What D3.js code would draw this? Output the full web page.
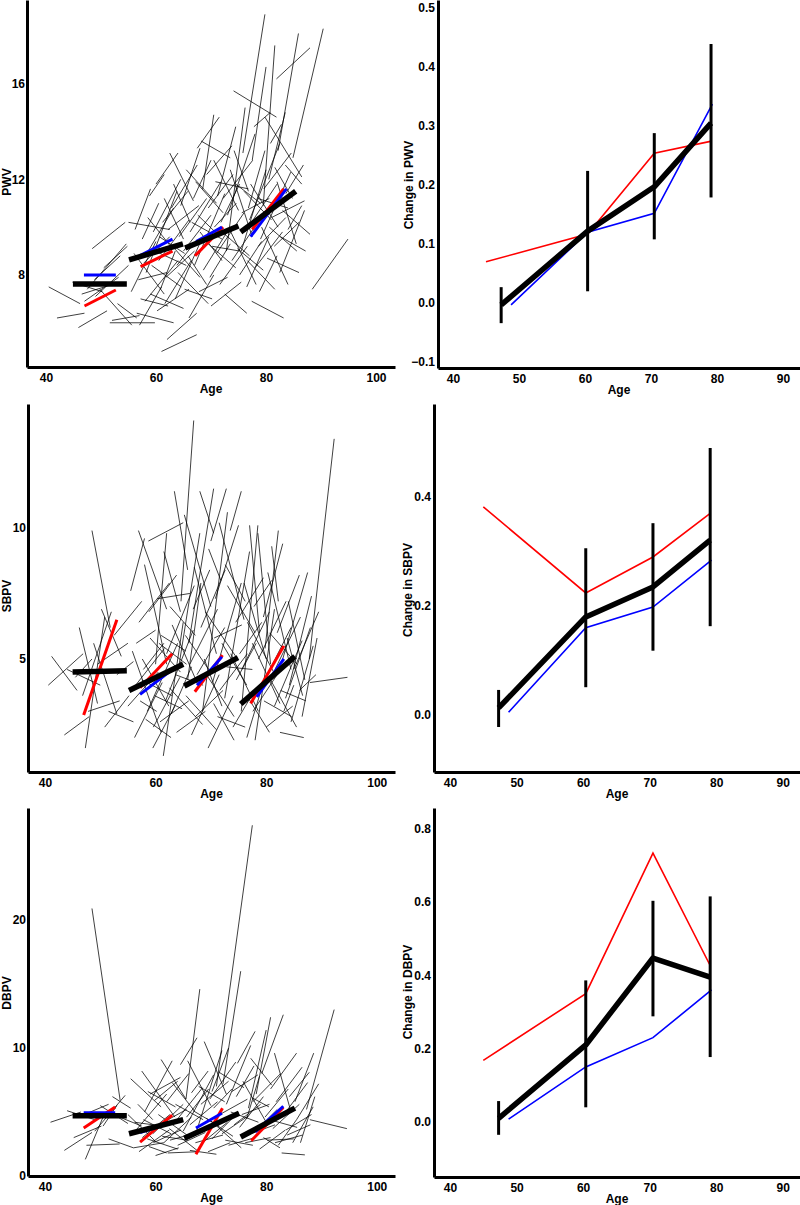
<!DOCTYPE html>
<html><head><meta charset="utf-8">
<script src="https://cdn.jsdelivr.net/npm/d3@7"></script>
<style>
body{margin:0;background:#fff;}
svg text{font-family:"Liberation Sans",Arial,sans-serif;font-weight:bold;fill:#000;}
</style></head>
<body><svg id="c" width="800" height="1205"></svg>
<script>
// ---------- DATA ----------
const ageTicksLeft = [40, 60, 80, 100];
const ageTicksRight = [40, 50, 60, 70, 80, 90];
const pwvTicks = [8, 12, 16];
const sbpvTicks = [5, 10];
const dbpvTicks = [0, 10, 20];
const pwvChangeTicks = [-0.1, 0.0, 0.1, 0.2, 0.3, 0.4, 0.5];
const sbpvChangeTicks = [0.0, 0.2, 0.4];
const dbpvChangeTicks = [0.0, 0.2, 0.4, 0.6, 0.8];

// individual trajectories: [age1, value1, age2, value2]
const pwvTraj = [
 [40.5,7.5,46.2,6.8],[42.0,6.2,47.0,6.4],[45.9,5.8,51.1,6.5],[48.4,9.1,54.4,10.2],[47.5,7.4,54.6,9.3],
 [51.6,6.0,59.8,6.0],[49.8,7.4,55.6,5.9],[46.5,7.2,52.0,7.6],[47.0,6.9,53.2,7.9],[49.0,7.1,55.0,8.4],
 [44.8,7.7,50.2,7.3],[50.5,8.3,54.8,9.2],[52.0,6.1,57.0,6.3],[53.0,6.8,56.5,6.2],[48.8,7.8,53.5,8.8],
 [55.0,10.2,62.5,9.9],[55.5,7.3,60.0,9.4],[56.0,8.9,61.5,7.2],[56.5,6.4,63.2,6.0],[57.0,5.9,61.0,7.5],
 [56.8,7.8,62.0,8.1],[57.5,9.5,60.5,11.0],[58.0,6.9,64.0,8.6],[58.5,10.4,63.0,9.1],[58.2,8.1,63.8,11.5],
 [59.0,7.2,65.0,6.6],[59.5,9.8,64.5,12.0],[60.0,11.8,64.0,13.1],[60.2,6.5,66.0,7.4],[61.0,4.8,67.4,5.5],
 [62.0,5.3,67.4,6.4],[62.5,13.1,66.8,11.1],[60.5,8.6,66.0,10.3],[61.5,11.2,65.0,9.5],[61.8,7.9,67.0,9.0],
 [62.8,10.8,67.5,12.6],[63.0,9.2,68.0,7.9],[57.8,8.5,62.5,9.6],[59.8,9.0,65.5,8.4],[63.5,7.0,68.5,9.6],
 [64.0,8.1,69.5,6.8],[61.2,10.2,65.8,11.5],[58.8,11.3,61.5,12.2],[64.5,10.9,68.0,13.3],[60.8,7.4,63.5,9.0],
 [65.0,9.0,70.0,10.5],[65.5,12.4,71.0,11.0],[66.0,6.2,70.5,8.0],[66.5,10.2,72.0,9.5],[67.0,8.4,72.5,11.4],
 [67.5,13.3,71.5,14.6],[68.2,13.6,73.5,12.9],[67.8,7.3,73.0,7.9],[68.5,11.6,70.5,14.7],[69.0,9.4,74.5,8.3],
 [69.5,10.8,74.0,12.2],[70.0,6.7,75.5,7.7],[70.5,12.8,75.0,10.7],[71.0,8.9,76.0,10.6],[71.2,11.3,74.5,14.2],
 [72.0,9.8,77.0,8.8],[72.5,7.2,76.5,6.4],[73.0,10.5,78.0,13.9],[73.5,12.4,77.5,9.6],[74.1,15.7,81.9,14.6],
 [73.8,8.6,78.5,10.2],[74.5,11.8,79.0,11.0],[66.8,11.2,70.0,12.8],[68.0,9.8,72.0,8.6],[69.8,7.9,73.5,9.3],
 [71.8,10.2,75.2,11.8],[72.8,9.0,76.2,15.0],[70.8,11.9,76.8,11.6],[65.8,8.8,69.2,7.6],[74.8,9.1,79.5,8.2],
 [75.8,13.1,79.8,18.9],[79.5,10.9,81.6,17.6],[82.2,13.2,85.9,18.1],[84.9,12.9,90.4,18.3],[81.9,16.2,88.0,17.5],
 [77.4,6.9,83.2,6.2],[88.4,7.4,94.9,9.5],[75.5,9.0,80.0,12.4],[76.0,11.5,81.0,10.3],[76.5,7.5,80.5,9.6],
 [77.0,10.3,82.5,13.5],[77.5,12.8,80.0,16.7],[78.0,8.3,83.0,9.8],[78.5,11.2,84.0,10.8],[79.0,9.5,84.5,12.3],
 [79.8,14.6,86.5,12.1],[80.2,8.7,86.0,8.1],[80.5,12.0,83.5,14.8],[81.0,10.4,87.0,11.1],[81.5,9.2,86.0,10.2],
 [82.0,11.9,85.5,9.3],[82.5,8.1,87.0,10.7],[83.0,10.7,88.0,9.7],[83.5,12.6,86.5,11.8],[84.0,9.9,86.5,10.9],
 [76.2,9.8,82.0,11.8],[78.8,7.3,82.0,8.8],[80.8,13.5,82.8,14.3],[75.2,8.0,79.2,9.4],[77.8,14.2,80.8,14.8],
 [79.2,10.0,84.0,7.6],
 [56.2,9.9,59.0,11.6],[57.2,7.0,62.2,6.7],[58.6,9.0,63.2,10.8],[59.2,8.4,64.6,7.5],[60.6,9.6,65.2,8.9],
 [61.6,6.8,66.4,8.6],[62.2,9.9,67.8,10.9],[63.2,11.8,66.2,10.2],[64.2,9.6,69.2,11.2],[65.2,7.4,70.2,7.0],
 [66.2,9.8,71.8,11.9],[67.2,11.9,72.2,10.6],[68.6,8.2,73.2,9.9],[69.2,12.2,73.8,13.4],[70.2,9.2,75.2,9.0],
 [71.6,7.6,76.6,9.2],[72.2,11.2,77.6,12.8],[73.6,9.8,78.2,7.6],[75.6,10.6,80.6,11.2],[76.6,8.6,81.6,7.4],
 [77.2,11.8,82.2,10.0],[78.6,9.2,83.6,10.4],[79.6,11.6,84.6,13.1],[80.6,10.0,85.6,9.0],[81.6,12.5,84.8,11.2],
 [82.6,9.6,87.2,9.0],[83.6,11.4,86.8,12.6],[76.8,10.8,79.8,13.2],[74.2,13.2,76.8,11.5],[70.6,10.0,74.6,11.0],
 [67.6,10.5,71.2,9.7],[63.8,8.4,67.2,9.4]
];
const sbpvTraj = [
 [40.6,4.0,46.9,5.2],[41.2,5.1,45.8,3.8],[43.5,2.1,48.0,2.8],[44.0,4.6,50.0,4.0],[46.2,6.2,49.5,3.3],
 [47.3,1.6,50.8,6.6],[48.5,9.9,51.8,6.2],[47.8,3.0,53.5,3.4],[48.8,5.6,53.0,2.9],[49.5,4.8,55.0,5.6],
 [46.8,3.6,52.0,6.8],[50.2,6.9,53.8,5.1],[51.5,3.0,56.0,2.6],[52.5,5.9,57.5,7.2],[50.8,2.4,55.2,3.6],
 [45.5,4.3,48.5,5.0],[53.0,4.4,56.0,4.9],
 [55.5,7.6,58.0,9.6],[56.9,9.9,62.0,6.9],[55.0,3.2,60.5,4.5],[55.8,5.3,61.0,2.2],[56.2,2.0,61.2,4.1],
 [57.0,6.4,62.5,7.9],[57.5,4.2,63.0,3.6],[58.0,8.6,62.0,4.8],[58.7,9.5,65.0,10.2],[58.5,3.0,64.0,5.6],
 [59.0,5.8,64.5,4.5],[59.5,1.6,63.5,3.2],[60.0,4.8,62.0,9.8],[60.3,7.3,66.2,7.5],[60.8,2.6,66.0,3.4],
 [61.4,1.3,65.0,6.4],[61.5,9.1,64.5,6.8],[62.0,5.2,67.0,7.8],[62.5,3.9,68.5,2.5],[63.0,6.3,67.5,4.1],
 [63.4,11.4,65.8,8.4],[64.6,7.2,66.9,14.1],[63.8,2.2,69.0,3.0],[64.2,4.7,68.0,9.8],[57.8,4.6,61.5,5.6],
 [59.8,3.6,64.8,3.1],[61.0,5.9,65.5,5.3],[62.8,2.9,66.5,4.7],[56.5,5.6,60.0,6.1],[58.2,2.7,62.8,2.0],
 [65.2,10.5,70.0,7.0],[65.5,3.6,71.0,2.3],[66.0,5.6,70.5,11.5],[66.5,2.1,71.5,4.4],[67.0,8.5,71.0,5.2],
 [67.5,4.4,72.5,6.2],[68.0,11.4,70.5,9.8],[68.5,3.0,73.0,10.6],[69.0,6.8,74.5,5.1],[69.5,1.6,74.0,3.6],
 [70.0,9.5,72.8,11.5],[70.3,4.1,75.5,7.9],[70.8,7.3,75.0,10.1],[71.2,2.8,76.2,2.4],[71.5,10.2,76.0,6.5],
 [72.0,5.6,76.5,4.0],[72.5,3.5,77.0,9.1],[73.0,7.8,78.0,6.0],[73.5,9.9,75.5,11.4],[74.0,2.4,78.2,3.9],
 [74.5,6.4,79.5,8.1],[68.8,5.0,72.0,3.2],[66.8,6.9,69.8,8.4],[72.8,4.7,77.5,4.6],[65.8,4.2,68.2,7.9],
 [70.5,3.3,74.2,1.9],
 [75.5,3.0,78.5,10.1],[76.0,7.9,80.0,5.0],[76.5,2.0,79.5,4.1],[77.0,10.1,78.8,6.0],[77.5,5.6,82.5,3.3],
 [78.0,1.9,81.5,6.9],[78.5,9.8,80.8,4.8],[79.0,3.9,84.5,6.2],[79.5,6.6,83.0,9.4],[80.0,2.4,84.8,3.2],
 [80.3,8.3,84.5,4.6],[80.8,4.2,85.5,2.4],[81.0,9.3,82.2,7.2],[81.5,3.2,86.5,5.7],[82.0,6.0,86.0,8.2],
 [82.5,2.2,86.8,2.0],[83.0,5.0,87.5,8.3],[83.5,3.5,88.0,6.2],[84.0,7.2,87.0,4.2],[84.5,2.6,88.5,5.5],
 [85.0,4.6,89.5,6.8],[86.0,3.8,89.0,4.4],[87.8,5.0,92.3,13.4],[87.9,4.1,94.7,4.3],[77.8,7.0,81.0,8.0],
 [75.2,5.2,79.2,6.4],[79.8,5.4,82.2,9.9],[83.2,3.0,85.0,4.0],[86.5,2.8,89.2,5.8],[76.8,3.5,80.6,2.2],
 [56.4,4.0,61.6,5.4],[57.6,5.0,62.4,3.2],[58.8,6.8,63.8,8.2],[59.6,2.4,64.4,4.3],[60.6,5.6,65.6,4.8],
 [61.8,3.4,66.8,6.1],[62.6,7.0,67.2,5.9],[63.6,4.4,68.6,4.0],[66.2,4.8,71.2,6.9],[67.2,2.8,72.2,3.8],
 [68.2,6.2,72.6,8.4],[69.2,4.4,74.2,2.8],[70.6,5.8,75.6,6.3],[71.6,3.8,76.6,5.2],[72.6,8.6,76.2,7.2],
 [73.6,5.2,78.6,3.0],[75.6,4.6,80.6,6.8],[76.6,6.4,81.6,4.4],[77.6,3.0,82.6,4.6],[78.6,5.0,83.6,7.2],
 [79.6,3.4,84.6,2.8],[80.6,6.0,85.6,4.8],[81.6,4.6,86.2,6.6],[82.6,3.8,87.2,3.4],[84.2,4.0,88.2,7.4],
 [65.4,5.9,69.6,4.6],[74.6,4.2,78.2,5.6],[57.2,3.4,60.2,3.0],[69.6,9.2,71.8,8.0],[83.8,5.8,86.6,3.6]
];
const dbpvTraj = [
 [41.0,4.2,46.5,5.0],[43.5,2.0,48.5,3.4],[44.0,5.1,49.0,4.4],[47.3,1.3,50.5,4.6],[46.0,4.6,51.5,5.6],
 [48.5,20.9,53.6,5.9],[47.5,2.4,53.5,2.5],[49.0,3.5,54.5,6.3],[50.0,5.5,55.0,4.1],[51.5,2.9,56.0,2.2],
 [52.2,6.2,55.5,5.3],[50.5,3.9,53.0,5.5],[45.2,3.0,50.2,3.9],[53.5,4.6,57.5,3.9],
 [55.0,4.8,60.0,2.7],[55.5,7.6,61.0,5.4],[56.0,2.2,61.5,2.6],[56.5,3.6,62.0,6.4],[57.0,1.9,62.5,3.6],
 [57.5,8.2,63.5,4.6],[58.0,5.0,63.0,9.0],[58.5,2.9,64.0,2.1],[59.0,6.4,64.5,7.7],[59.5,3.3,65.0,5.6],
 [60.0,1.6,64.2,2.2],[60.5,4.8,66.0,3.1],[61.0,9.1,65.5,6.0],[61.5,2.6,66.5,4.6],[62.0,5.8,66.0,8.0],
 [62.5,3.7,67.5,2.0],[63.0,7.3,67.0,5.1],[63.5,4.2,68.5,6.9],[64.0,2.4,69.0,3.4],[64.5,8.7,67.5,10.8],
 [65.5,6.0,68.0,14.6],[59.8,5.9,64.0,7.4],[57.8,4.4,62.8,3.3],[61.2,3.1,65.8,2.8],[58.8,2.3,62.0,1.8],
 [56.8,5.6,59.5,4.4],[62.2,1.8,67.8,1.9],
 [65.0,3.5,70.5,7.9],[65.8,9.0,70.0,5.5],[66.2,2.0,71.0,1.7],[66.8,5.1,71.5,3.9],[67.2,3.2,72.0,9.8],
 [67.8,7.0,72.5,5.8],[68.2,2.5,73.0,4.2],[68.8,10.5,72.8,6.4],[69.2,4.5,74.0,3.1],[69.8,6.0,74.5,8.9],
 [70.2,2.9,75.0,5.0],[71.0,7.0,77.5,27.4],[70.8,4.0,75.5,2.2],[71.5,8.1,76.0,6.9],[72.2,7.2,75.4,16.0],
 [72.0,3.3,76.8,4.7],[72.8,5.6,77.2,10.2],[73.2,2.4,78.0,3.0],[73.8,6.6,78.5,7.9],[74.2,4.0,79.0,5.6],
 [74.8,8.8,78.0,11.3],[66.5,6.5,69.5,8.2],[69.5,1.9,73.5,2.6],[70.5,5.3,73.8,6.8],
 [75.2,3.8,79.5,6.2],[75.8,7.4,80.0,4.2],[76.2,2.6,80.8,3.0],[76.8,5.3,80.0,11.4],[77.2,9.2,81.0,7.1],
 [77.8,3.4,82.0,5.2],[78.2,6.4,80.8,12.4],[78.8,2.1,83.5,3.6],[79.2,8.0,83.1,12.6],[79.8,4.6,84.0,6.8],
 [80.2,2.8,85.0,2.9],[80.8,6.8,85.5,9.6],[81.2,3.7,86.0,5.6],[81.8,5.8,86.5,8.5],[82.2,2.4,85.5,4.4],
 [82.8,1.8,87.0,1.65],[83.2,4.8,87.5,7.3],[83.8,3.2,88.0,4.0],[84.2,6.2,87.8,8.1],[84.8,2.6,88.5,5.4],
 [85.5,4.4,89.5,7.2],[87.3,5.2,92.3,13.0],[87.9,4.4,94.6,3.7],[86.2,2.6,88.8,6.2],[76.5,4.5,78.8,7.8],
 [79.5,3.0,82.5,2.2],[81.5,9.6,84.5,5.0],[77.5,6.1,80.5,5.4],
 [56.2,4.2,61.2,3.9],[57.6,3.0,62.6,4.8],[58.6,6.6,63.6,5.4],[59.6,2.6,64.6,3.6],[60.6,4.0,65.6,5.2],
 [62.6,2.8,67.6,3.4],[63.6,5.6,68.6,4.4],[66.2,4.0,71.2,5.8],[67.2,2.6,72.2,3.2],[68.2,5.6,73.2,7.4],
 [69.2,3.6,74.2,4.6],[71.6,4.8,76.6,6.0],[72.6,2.8,77.6,2.4],[73.6,5.0,78.6,4.2],[75.6,4.8,80.6,5.6],
 [76.6,3.2,81.6,4.0],[77.6,5.8,82.6,8.0],[78.6,3.8,83.6,4.8],[80.6,4.4,85.6,3.8],[81.6,2.6,86.6,3.2],
 [83.6,3.6,88.2,4.8],[85.2,5.8,88.6,9.6],[74.6,6.2,77.8,8.6],[70.2,6.6,73.2,10.0],[65.6,4.6,69.6,6.8]
];

// group mean segments (left panels)
const pwvMeanSeg = [[44.9,7.62,54.7,7.62],[55.1,8.63,64.9,9.3],[65.3,9.13,75.0,10.05],[75.4,9.8,85.4,11.5]];
const pwvBlueSeg = [[46.9,8.0,52.7,8.0],[57.0,8.8,63.0,9.5],[67.3,9.4,72.0,10.0],[77.2,9.6,83.7,11.6]];
const pwvRedSeg  = [[47.0,6.7,52.7,7.37],[57.2,8.35,63.0,9.0],[67.1,8.8,72.2,10.0],[77.5,9.9,83.2,11.6]];
const sbpvMeanSeg = [[45.0,4.5,54.8,4.55],[55.2,3.8,65.0,4.8],[65.2,3.97,74.9,5.05],[75.4,3.28,85.2,5.1]];
const sbpvBlueSeg = [[47.0,4.55,53.0,4.55],[57.2,3.65,63.0,4.6],[67.5,4.0,72.0,5.08],[78.3,3.55,83.2,5.0]];
const sbpvRedSeg  = [[47.0,2.86,53.0,6.5],[57.2,3.9,63.0,5.2],[67.1,3.75,72.1,5.15],[77.2,3.3,83.2,5.5]];
const dbpvMeanSeg = [[45.0,4.7,54.8,4.7],[55.2,3.3,65.0,4.4],[65.2,2.95,75.1,4.9],[75.4,3.05,85.2,5.3]];
const dbpvBlueSeg = [[47.0,4.95,52.7,4.95],[57.2,3.4,63.0,4.2],[67.3,3.75,72.0,4.9],[78.0,3.45,83.1,5.45]];
const dbpvRedSeg  = [[47.0,3.75,52.7,5.4],[57.2,2.65,63.0,4.75],[67.3,1.7,72.1,5.3],[77.3,2.75,83.1,5.35]];

// change panels (right)
const groupAges = [47.3, 60.4, 70.5, 79.1];
const redAges = [45.0, 60.4, 70.5, 79.0];
const blueAges = [48.8, 60.4, 70.5, 79.3];
const pwvChange = [-0.003, 0.122, 0.197, 0.305];
const pwvLo = [-0.034, 0.020, 0.108, 0.179];
const pwvHi = [0.027, 0.224, 0.288, 0.439];
const pwvRed = [0.070, 0.117, 0.254, 0.274];
const pwvBlue = [-0.003, 0.120, 0.152, 0.337];
const sbpvChange = [0.013, 0.180, 0.235, 0.321];
const sbpvLo = [-0.022, 0.051, 0.118, 0.163];
const sbpvHi = [0.046, 0.306, 0.352, 0.490];
const sbpvRed = [0.382, 0.224, 0.290, 0.369];
const sbpvBlue = [0.005, 0.160, 0.198, 0.284];
const dbpvChange = [0.010, 0.210, 0.447, 0.395];
const dbpvLo = [-0.035, 0.040, 0.288, 0.177];
const dbpvHi = [0.057, 0.386, 0.603, 0.615];
const dbpvRed = [0.168, 0.350, 0.733, 0.430];
const dbpvBlue = [0.008, 0.150, 0.230, 0.360];

// ---------- DRAW ----------
const svg = d3.select("#c");

function axes(g, x, y, xt, yt, fmt, yLabel, lx, ly, ypad) {
  const xa = g.append("g").attr("transform", `translate(0,${y.range()[0]})`)
    .call(d3.axisBottom(x).tickValues(xt).tickSize(0).tickSizeOuter(0).tickPadding(6).tickFormat(d3.format("d")));
  const ya = g.append("g").attr("transform", `translate(${x.range()[0]},0)`)
    .call(d3.axisLeft(y).tickValues(yt).tickSize(0).tickSizeOuter(0).tickPadding(ypad).tickFormat(fmt));
  [xa, ya].forEach(a => {
    a.select(".domain").attr("stroke", "#000").attr("stroke-width", 3);
    a.selectAll("text").style("font-size", "12px").style("font-weight", "bold")
      .style("font-family", '"Liberation Sans",Arial,sans-serif');
  });
  const xr = x.range();
  g.append("text").attr("x", (xr[0] + xr[1]) / 2).attr("y", y.range()[0] + 25.5)
    .attr("text-anchor", "middle").style("font-size", "12px").text("Age");
  g.append("text").attr("transform", `translate(${lx},${ly}) rotate(-90)`)
    .attr("text-anchor", "middle").style("font-size", "12px").text(yLabel);
}

function leftPanel(cfg) {
  const g = svg.append("g");
  const x = d3.scaleLinear().domain(cfg.xd).range(cfg.xr);
  const y = d3.scaleLinear().domain(cfg.yd).range(cfg.yr);
  g.append("g").selectAll("line").data(cfg.traj).join("line")
    .attr("x1", d => x(d[0])).attr("y1", d => y(d[1]))
    .attr("x2", d => x(d[2])).attr("y2", d => y(d[3]))
    .attr("stroke", "#000").attr("stroke-width", 0.75);
  const seg = (data, col, w) => g.append("g").selectAll("line").data(data).join("line")
    .attr("x1", d => x(d[0])).attr("y1", d => y(d[1]))
    .attr("x2", d => x(d[2])).attr("y2", d => y(d[3]))
    .attr("stroke", col).attr("stroke-width", w);
  seg(cfg.red, "#ff0000", 3);
  seg(cfg.blue, "#0000ff", 3);
  seg(cfg.mean, "#000", 5.5);
  axes(g, x, y, ageTicksLeft, cfg.yt, d3.format("d"), cfg.label, cfg.lx, cfg.ly, 2);
}

function rightPanel(cfg) {
  const g = svg.append("g");
  const x = d3.scaleLinear().domain(cfg.xd).range(cfg.xr);
  const y = d3.scaleLinear().domain(cfg.yd).range(cfg.yr);
  const line = d3.line().x(d => x(d[0])).y(d => y(d[1]));
  g.append("path").datum(d3.zip(redAges, cfg.red)).attr("d", line)
    .attr("fill", "none").attr("stroke", "#ff0000").attr("stroke-width", 1.6);
  g.append("path").datum(d3.zip(blueAges, cfg.blue)).attr("d", line)
    .attr("fill", "none").attr("stroke", "#0000ff").attr("stroke-width", 1.6);
  g.append("path").datum(d3.zip(groupAges, cfg.mean)).attr("d", line)
    .attr("fill", "none").attr("stroke", "#000").attr("stroke-width", 5.5).attr("stroke-linejoin", "round");
  g.append("g").selectAll("line").data(d3.zip(groupAges, cfg.lo, cfg.hi)).join("line")
    .attr("x1", d => x(d[0])).attr("x2", d => x(d[0]))
    .attr("y1", d => y(d[1])).attr("y2", d => y(d[2]))
    .attr("stroke", "#000").attr("stroke-width", 3);
  axes(g, x, y, ageTicksRight, cfg.yt, d3.format(".1f"), cfg.label, cfg.lx, cfg.ly, 3);
}

leftPanel({traj: pwvTraj, mean: pwvMeanSeg, blue: pwvBlueSeg, red: pwvRedSeg,
  xd: [36.55, 103.45], xr: [27, 395], yd: [4.15, 19.5], yr: [367, 0], yt: pwvTicks,
  label: "PWV", lx: 11, ly: 182});
leftPanel({traj: sbpvTraj, mean: sbpvMeanSeg, blue: sbpvBlueSeg, red: sbpvRedSeg,
  xd: [36.93, 103.3], xr: [28, 395], yd: [0.687, 14.73], yr: [772, 404], yt: sbpvTicks,
  label: "SBPV", lx: 11, ly: 596});
leftPanel({traj: dbpvTraj, mean: dbpvMeanSeg, blue: dbpvBlueSeg, red: dbpvRedSeg,
  xd: [36.93, 103.3], xr: [28, 395], yd: [0, 28.75], yr: [1176, 808], yt: dbpvTicks,
  label: "DBPV", lx: 11, ly: 993});

rightPanel({mean: pwvChange, lo: pwvLo, hi: pwvHi, red: pwvRed, blue: pwvBlue,
  xd: [37.73, 92.58], xr: [438, 800], yd: [-0.110, 0.5136], yr: [368, 0], yt: pwvChangeTicks,
  label: "Change in PWV", lx: 413, ly: 185});
rightPanel({mean: sbpvChange, lo: sbpvLo, hi: sbpvHi, red: sbpvRed, blue: sbpvBlue,
  xd: [37.59, 92.6], xr: [434, 800], yd: [-0.1046, 0.5707], yr: [772, 404], yt: sbpvChangeTicks,
  label: "Change in SBPV", lx: 412, ly: 590});
rightPanel({mean: dbpvChange, lo: dbpvLo, hi: dbpvHi, red: dbpvRed, blue: dbpvBlue,
  xd: [37.59, 92.6], xr: [434, 800], yd: [-0.150, 0.856], yr: [1177, 808], yt: dbpvChangeTicks,
  label: "Change in DBPV", lx: 412, ly: 992});
</script></body></html>
